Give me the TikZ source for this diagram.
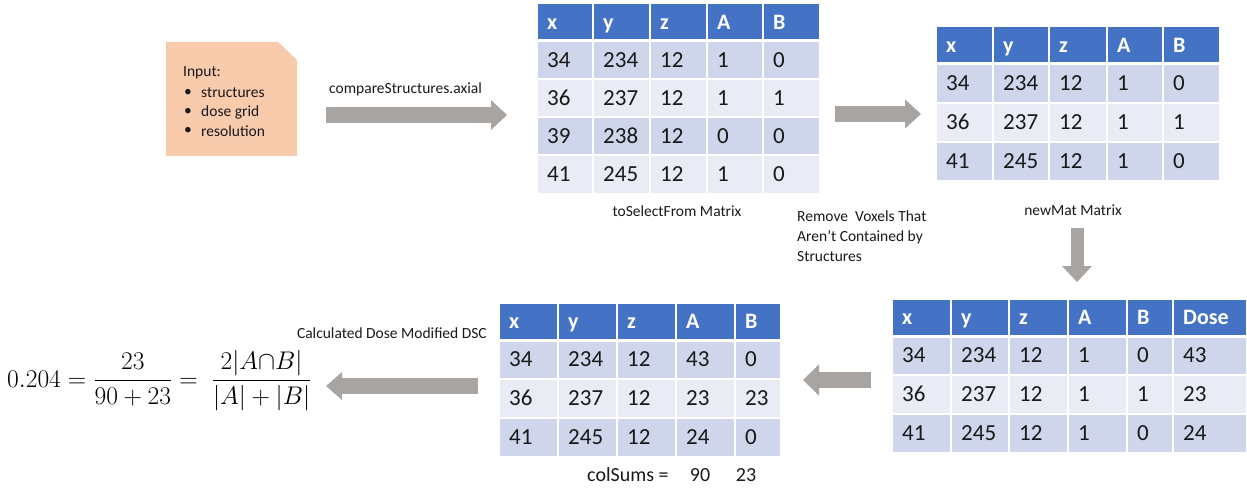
\RequirePackage{fix-cm}
\documentclass[tikz,border=0pt]{standalone}
\usepackage[no-math]{fontspec}
\setmainfont{Carlito}
\usetikzlibrary{arrows.meta}
\definecolor{hdrblue}{HTML}{4472C4}
\definecolor{rowdark}{HTML}{CFD5EA}
\definecolor{rowlight}{HTML}{E9EBF5}
\definecolor{peach}{HTML}{F8CBAD}
\definecolor{arrowgray}{RGB}{167,164,162}
\definecolor{txt}{RGB}{25,25,25}
\tikzset{
  hdr/.style={fill=hdrblue, draw=white, line width=1.5pt},
  dark/.style={fill=rowdark, draw=white, line width=1.5pt},
  light/.style={fill=rowlight, draw=white, line width=1.5pt},
  celltext/.style={anchor=west, inner sep=0pt, text height=14.5pt, text depth=0pt},
  hdr text/.style={text=white, font=\fontsize{22}{26}\selectfont\bfseries},
  dark text/.style={text=txt, font=\fontsize{23}{27}\selectfont},
  light text/.style={dark text},
  lbl/.style={inner sep=0pt, text=txt, font=\fontsize{15.5}{20}\selectfont},
  blockarrow/.style 2 args={draw=arrowgray, line width=#1,
    -{Triangle[width=#2, length=16pt, line width=0pt]}},
}
% #1 table name, #2 row index, #3 y top, #4 y bottom, #5 row style, #6 x1/x2/text list
\newcommand\trow[6]{%
  \foreach \xa/\xb/\t [count=\c] in {#6} {
    \path[#5] (\xa,#3) rectangle (\xb,#4);
    \node[celltext, #5 text] (#1-#2-\c) at ({\xa+10},{(#3+#4)/2}) {\t};
  }}
\begin{document}
\begin{tikzpicture}[x=1pt, y=-1pt]
\useasboundingbox (0,0) rectangle (1247,489);

% input box
\fill[peach] (166,42) -- (278,42) -- (297,60) -- (297,156) -- (166,156) -- cycle;
\node[lbl, anchor=west] (inp) at (183,73) {Input:};
\node[lbl, anchor=west] (b1) at (184,93) {•};
\node[lbl, anchor=west] (i1) at (201,93) {structures};
\node[lbl, anchor=west] (b2) at (184,112) {•};
\node[lbl, anchor=west] (i2) at (201,112) {dose grid};
\node[lbl, anchor=west] (b3) at (184,131) {•};
\node[lbl, anchor=west] (i3) at (201,131) {resolution};

% table 1: toSelectFrom
\trow{t1}{0}{3}{41}{hdr}{537/593/x,593/650/y,650/707/z,707/763/A,763/820/B}
\trow{t1}{1}{41}{79}{dark}{537/593/34,593/650/234,650/707/12,707/763/1,763/820/0}
\trow{t1}{2}{79}{117}{light}{537/593/36,593/650/237,650/707/12,707/763/1,763/820/1}
\trow{t1}{3}{117}{155}{dark}{537/593/39,593/650/238,650/707/12,707/763/0,763/820/0}
\trow{t1}{4}{155}{194}{light}{537/593/41,593/650/245,650/707/12,707/763/1,763/820/0}
\draw[white, line width=3pt] (537,41) -- (820,41);
\node[lbl] (l1) at (677,211) {toSelectFrom Matrix};

% table 2: newMat
\trow{t2}{0}{26}{64}{hdr}{936/993/x,993/1049/y,1049/1107/z,1107/1163/A,1163/1220/B}
\trow{t2}{1}{64}{103}{dark}{936/993/34,993/1049/234,1049/1107/12,1107/1163/1,1163/1220/0}
\trow{t2}{2}{103}{142}{light}{936/993/36,993/1049/237,1049/1107/12,1107/1163/1,1163/1220/1}
\trow{t2}{3}{142}{181}{dark}{936/993/41,993/1049/245,1049/1107/12,1107/1163/1,1163/1220/0}
\draw[white, line width=3pt] (936,64) -- (1220,64);
\node[lbl] (l2) at (1073,210) {newMat Matrix};

% table 3: with dose
\trow{t3}{0}{299}{336}{hdr}{892/951/x,951/1009/y,1009/1068/z,1068/1127/A,1127/1173/B,1173/1247/Dose}
\trow{t3}{1}{336}{375}{dark}{892/951/34,951/1009/234,1009/1068/12,1068/1127/1,1127/1173/0,1173/1247/43}
\trow{t3}{2}{375}{414}{light}{892/951/36,951/1009/237,1009/1068/12,1068/1127/1,1127/1173/1,1173/1247/23}
\trow{t3}{3}{414}{453}{dark}{892/951/41,951/1009/245,1009/1068/12,1068/1127/1,1127/1173/0,1173/1247/24}
\draw[white, line width=3pt] (892,336) -- (1247,336);

% table 4: dose weighted
\trow{t4}{0}{303}{340}{hdr}{499/558/x,558/617/y,617/676/z,676/735/A,735/781/B}
\trow{t4}{1}{340}{379}{dark}{499/558/34,558/617/234,617/676/12,676/735/43,735/781/0}
\trow{t4}{2}{379}{418}{light}{499/558/36,558/617/237,617/676/12,676/735/23,735/781/23}
\trow{t4}{3}{418}{457}{dark}{499/558/41,558/617/245,617/676/12,676/735/24,735/781/0}
\draw[white, line width=3pt] (499,340) -- (781,340);
\node[lbl, anchor=west, font=\fontsize{20}{24}\selectfont] (cs) at (587,475) {colSums =};
\node[lbl, font=\fontsize{20}{24}\selectfont] (cs1) at (700,475) {90};
\node[lbl, font=\fontsize{20}{24}\selectfont] (cs2) at (746,475) {23};

% labels
\node[lbl, anchor=west] (cmp) at (329,89) {compareStructures.axial};
\node[lbl, anchor=north west, align=left] (rm) at (797,211) {Remove\ \ Voxels That\\Aren’t Contained by\\Structures};
\node[lbl, anchor=east] (calc) at (487,333) {Calculated Dose Modified DSC};

% formula
\node[anchor=base west, inner sep=0pt, text=black, font=\fontsize{25.5}{30}\selectfont] (dsc) at (7,387)
  {$\displaystyle 0.204=\frac{23}{90+23}=\;\frac{2|A{\cap}B|}{|A|+|B|}$};

% block arrows
\coordinate (a1s) at (326,115); \coordinate (a1e) at (507,115);
\coordinate (a2s) at (835,114); \coordinate (a2e) at (921,114);
\coordinate (a3s) at (1077,228); \coordinate (a3e) at (1077,282);
\coordinate (a4s) at (871,380); \coordinate (a4e) at (803,380);
\coordinate (a5s) at (478,386); \coordinate (a5e) at (326,386);
\draw[blockarrow={16pt}{30pt}] (a1s) -- (a1e);
\draw[blockarrow={16pt}{29pt}] (a2s) -- (a2e);
\draw[blockarrow={13pt}{30pt}] (a3s) -- (a3e);
\draw[blockarrow={16pt}{31pt}] (a4s) -- (a4e);
\draw[blockarrow={16pt}{28pt}] (a5s) -- (a5e);
\end{tikzpicture}
\end{document}
